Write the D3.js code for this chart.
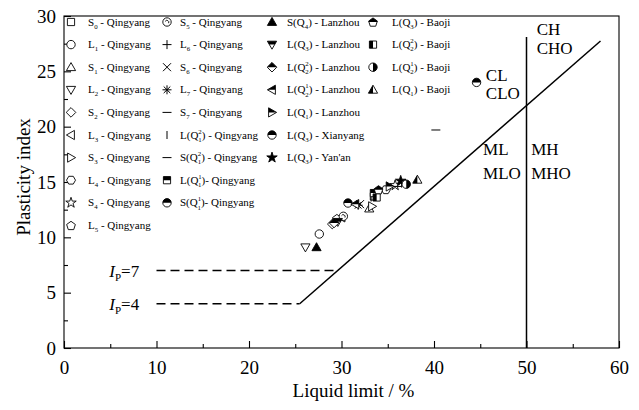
<!DOCTYPE html>
<html>
<head>
<meta charset="utf-8">
<script src="https://cdn.jsdelivr.net/npm/d3@7/dist/d3.min.js"></script>
<style>
html,body{margin:0;padding:0;background:#fff;}
svg{display:block;font-family:"Liberation Serif","Times New Roman",serif;}
</style>
</head>
<body>
<svg id="chart" width="639" height="410"></svg>
<script>
// ---------- DATA ----------
const seriesNames = [
  "S_0 - Qingyang","L_1 - Qingyang","S_1 - Qingyang","L_2 - Qingyang","S_2 - Qingyang",
  "L_3 - Qingyang","S_3 - Qingyang","L_4 - Qingyang","S_4 - Qingyang","L_5 - Qingyang",
  "S_5 - Qingyang","L_6 - Qingyang","S_6 - Qingyang","L_7 - Qingyang","S_7 - Qingyang",
  "L(Q^2_1) - Qingyang","S(Q^2_1) - Qingyang","L(Q^1_1)- Qingyang","S(Q^1_1)- Qingyang",
  "S(Q_4) - Lanzhou","L(Q_3) - Lanzhou","L(Q^2_2) - Lanzhou","L(Q^1_2) - Lanzhou","L(Q_1) - Lanzhou",
  "L(Q_3) - Xianyang","L(Q_3) - Yan'an",
  "L(Q_3) - Baoji","L(Q^2_2) - Baoji","L(Q^1_2) - Baoji","L(Q_1) - Baoji"
];
const seriesShapes = [
  "square","circle","triUp","triDown","diamond","triLeft","triRight","hexagon","star","pentagon",
  "circleE","plus","cross","asterisk","dash","vbar","dash","square","circle",
  "triUp","triDown","diamond","triLeft","triRight","circle","star",
  "pentagon","square","circle","triUp"
];
const seriesFills = [
  "open","open","open","open","open","open","open","open","open","open",
  "open","line","line","line","line","line","line","top","top",
  "full","top","top","top","top","top","full",
  "top","left","right","left"
];
const liquidLimit = [
  33.5,27.6,33.0,26.1,29.0,30.0,33.3,34.8,35.8,29.5,
  30.2,36.5,32.0,31.8,40.2,33.2,36.0,33.5,30.7,
  27.3,29.6,29.2,31.5,35.2,44.6,36.4,
  34.0,33.8,37.0,38.2
];
const plasticityIndex = [
  13.7,10.3,12.6,9.1,11.2,11.8,12.8,14.3,14.7,11.7,
  11.9,14.9,13.0,12.9,19.7,13.6,14.6,14.0,13.1,
  9.1,11.4,11.3,13.0,14.6,24.0,15.1,
  14.3,13.6,14.8,15.2
];
const legendColumnSizes = [10, 9, 7, 4];
const xTicks = [0,10,20,30,40,50,60];
const xMinorTicks = [5,15,25,35,45,55];
const yTicks = [0,5,10,15,20,25,30];
const yMinorTicks = [2.5,7.5,12.5,17.5,22.5,27.5];
const zoneLabels = [
  {t:"CH", x:51.1, y:28.3},{t:"CHO", x:51.1, y:26.6},
  {t:"CL", x:45.6, y:24.1},{t:"CLO", x:45.6, y:22.5},
  {t:"ML", x:45.3, y:17.4},{t:"MLO", x:45.3, y:15.3},
  {t:"MH", x:50.5, y:17.4},{t:"MHO", x:50.5, y:15.3}
];
const ipLines = [7, 4];       // horizontal dashed limits
const aLineRange = [25.48, 58]; // liquid-limit extent of the A-line
const bLineTop = 28.1;          // top of the wL=50 line

// ---------- SETUP ----------
const svg = d3.select("#chart");
const L = 64, R = 619, T = 16, B = 348;
const x = d3.scaleLinear().domain([0,60]).range([L,R]);
const y = d3.scaleLinear().domain([0,30]).range([B,T]);
const aLine = w => 0.73*(w-20);

const defs = svg.append("defs");
[["top",-10,-10,20,10],["left",-10,-10,10,20],["right",0,-10,10,20]].forEach(([id,cx,cy,w,h])=>{
  defs.append("clipPath").attr("id","clip-"+id).attr("clipPathUnits","userSpaceOnUse")
    .append("rect").attr("x",cx).attr("y",cy).attr("width",w).attr("height",h);
});

function shapePath(shape){
  const r = 4.2;
  const p = d3.path();
  const poly = pts => { pts.forEach((q,i)=> i? p.lineTo(q[0],q[1]) : p.moveTo(q[0],q[1])); p.closePath(); };
  switch(shape){
    case "square": poly([[-3.6,-3.6],[3.6,-3.6],[3.6,3.6],[-3.6,3.6]]); break;
    case "circle": case "circleE": p.moveTo(r,0); p.arc(0,0,r,0,2*Math.PI); break;
    case "triUp": poly([[0,-4.6],[4.6,3.4],[-4.6,3.4]]); break;
    case "triDown": poly([[0,4.6],[4.6,-3.4],[-4.6,-3.4]]); break;
    case "triLeft": poly([[-4.6,0],[3.4,-4.6],[3.4,4.6]]); break;
    case "triRight": poly([[4.6,0],[-3.4,-4.6],[-3.4,4.6]]); break;
    case "diamond": poly([[0,-4.8],[4.8,0],[0,4.8],[-4.8,0]]); break;
    case "hexagon": poly(d3.range(6).map(i=>{const a=Math.PI/3*i; return [4.5*Math.cos(a),4.5*Math.sin(a)];})); break;
    case "pentagon": poly(d3.range(5).map(i=>{const a=-Math.PI/2+2*Math.PI/5*i; return [4.6*Math.cos(a),4.6*Math.sin(a)+0.5];})); break;
    case "star": return d3.symbol(d3.symbolStar, 34)();
    case "plus": p.moveTo(-4.5,0); p.lineTo(4.5,0); p.moveTo(0,-4.5); p.lineTo(0,4.5); break;
    case "cross": p.moveTo(-4,-4); p.lineTo(4,4); p.moveTo(-4,4); p.lineTo(4,-4); break;
    case "asterisk": p.moveTo(-4.5,0); p.lineTo(4.5,0); p.moveTo(0,-4.5); p.lineTo(0,4.5);
      p.moveTo(-3.3,-3.3); p.lineTo(3.3,3.3); p.moveTo(-3.3,3.3); p.lineTo(3.3,-3.3); break;
    case "dash": p.moveTo(-4.5,0); p.lineTo(4.5,0); break;
    case "vbar": p.moveTo(0,-4); p.lineTo(0,4); break;
  }
  return p.toString();
}

function drawMarker(g, shape, fill){
  const d = shapePath(shape);
  if (fill === "line"){
    g.append("path").attr("d",d).attr("fill","none").attr("stroke","#000").attr("stroke-width",1);
    return;
  }
  g.append("path").attr("d",d).attr("fill", fill==="full" ? "#000" : "#fff");
  if (fill==="top"||fill==="left"||fill==="right"){
    g.append("path").attr("d",d).attr("fill","#000").attr("clip-path","url(#clip-"+fill+")");
  }
  g.append("path").attr("d",d).attr("fill","none").attr("stroke","#000").attr("stroke-width",0.9);
  if (shape==="circleE"){
    g.append("path").attr("d","M-1.8,-0.6 A1.9,1.9 0 1 1 1.6,1.2").attr("fill","none").attr("stroke","#000").attr("stroke-width",0.9);
  }
}

// rich label with _sub and ^sup (stacked when ^a_b)
function richText(sel, str, size){
  const subSize = size*0.62;
  let cur = 0; // current dy offset
  let i = 0, buf = "";
  const flush = () => { if (buf){ sel.append("tspan").attr("dy",-cur).attr("font-size",size).text(buf); cur = 0; buf=""; } };
  while (i < str.length){
    const c = str[i];
    if (c === "_" ){
      flush();
      sel.append("tspan").attr("dy", size*0.28 - cur).attr("font-size",subSize).text(str[i+1]);
      cur = size*0.28; i += 2;
    } else if (c === "^"){
      flush();
      const up = -size*0.44, dn = size*0.30;
      sel.append("tspan").attr("dy", up - cur).attr("font-size",subSize).text(str[i+1]);
      cur = up;
      if (str[i+2] === "_"){
        sel.append("tspan").attr("dx", -subSize*0.5).attr("dy", dn - cur).attr("font-size",subSize).text(str[i+3]);
        cur = dn; i += 4;
      } else i += 2;
    } else { buf += c; i++; }
  }
  flush();
}

// ---------- AXES ----------
const stroke = 1.1;
const xAxis = svg.append("g").attr("transform",`translate(0,${B})`)
  .call(d3.axisBottom(x).tickValues(xTicks).tickSize(-7).tickPadding(13).tickFormat(d3.format("d")));
const xMinor = svg.append("g").attr("transform",`translate(0,${B})`)
  .call(d3.axisBottom(x).tickValues(xMinorTicks).tickSize(-4).tickFormat(""));
const yAxis = svg.append("g").attr("transform",`translate(${L},0)`)
  .call(d3.axisLeft(y).tickValues(yTicks).tickSize(-7).tickPadding(8).tickFormat(d3.format("d")));
const yMinor = svg.append("g").attr("transform",`translate(${L},0)`)
  .call(d3.axisLeft(y).tickValues(yMinorTicks).tickSize(-4).tickFormat(""));
[xAxis,xMinor,yAxis,yMinor].forEach(a=>{
  a.select(".domain").remove();
  a.selectAll("line").attr("stroke","#000").attr("stroke-width",stroke);
  a.selectAll("text").attr("font-family","Liberation Serif").attr("font-size",19).attr("fill","#000");
});
svg.append("rect").attr("x",L).attr("y",T).attr("width",R-L).attr("height",B-T)
  .attr("fill","none").attr("stroke","#000").attr("stroke-width",stroke);

// axis titles
svg.append("text").attr("x",(L+R)/2+12).attr("y",397).attr("text-anchor","middle")
  .attr("font-size",19).text("Liquid limit / %");
svg.append("text").attr("transform","translate(30,177) rotate(-90)").attr("text-anchor","middle")
  .attr("font-size",19).text("Plasticity index");

// ---------- REFERENCE LINES ----------
svg.append("line").attr("x1",x(aLineRange[0])).attr("y1",y(aLine(aLineRange[0])))
  .attr("x2",x(aLineRange[1])).attr("y2",y(aLine(aLineRange[1])))
  .attr("stroke","#000").attr("stroke-width",1.5);
svg.append("line").attr("x1",x(50)).attr("y1",y(0)).attr("x2",x(50)).attr("y2",y(bLineTop))
  .attr("stroke","#000").attr("stroke-width",1.5);
ipLines.forEach(v=>{
  svg.append("line").attr("x1",x(10)).attr("x2",x(20+v/0.73)).attr("y1",y(v)).attr("y2",y(v))
    .attr("stroke","#000").attr("stroke-width",1.4).attr("stroke-dasharray","9,5");
  const t = svg.append("text").attr("x",x(4.9)).attr("y",y(v)+6).attr("font-size",17);
  t.append("tspan").attr("font-style","italic").text("I");
  t.append("tspan").attr("font-size",11).attr("dy",4).text("P");
  t.append("tspan").attr("dy",-4).text("=" + v);
});
zoneLabels.forEach(z=>{
  svg.append("text").attr("x",x(z.x)).attr("y",y(z.y)).attr("font-size",17).text(z.t);
});

// ---------- DATA POINTS ----------
seriesNames.forEach((n,i)=>{
  const g = svg.append("g").attr("transform",`translate(${x(liquidLimit[i])},${y(plasticityIndex[i])})`);
  drawMarker(g, seriesShapes[i], seriesFills[i]);
});

// ---------- LEGEND ----------
const colMarkerX = [71, 167, 272, 373];
const colTextX = [88, 180, 287, 392];
const rowY0 = 22, rowStep = 22.6;
let idx = 0;
legendColumnSizes.forEach((n,c)=>{
  for (let r=0;r<n;r++,idx++){
    const yy = rowY0 + r*rowStep;
    const g = svg.append("g").attr("transform",`translate(${colMarkerX[c]},${yy})`);
    drawMarker(g, seriesShapes[idx], seriesFills[idx]);
    const t = svg.append("text").attr("x",colTextX[c]).attr("y",yy+3.5).attr("font-size",11);
    richText(t, seriesNames[idx], 11);
  }
});
</script>
</body>
</html>
